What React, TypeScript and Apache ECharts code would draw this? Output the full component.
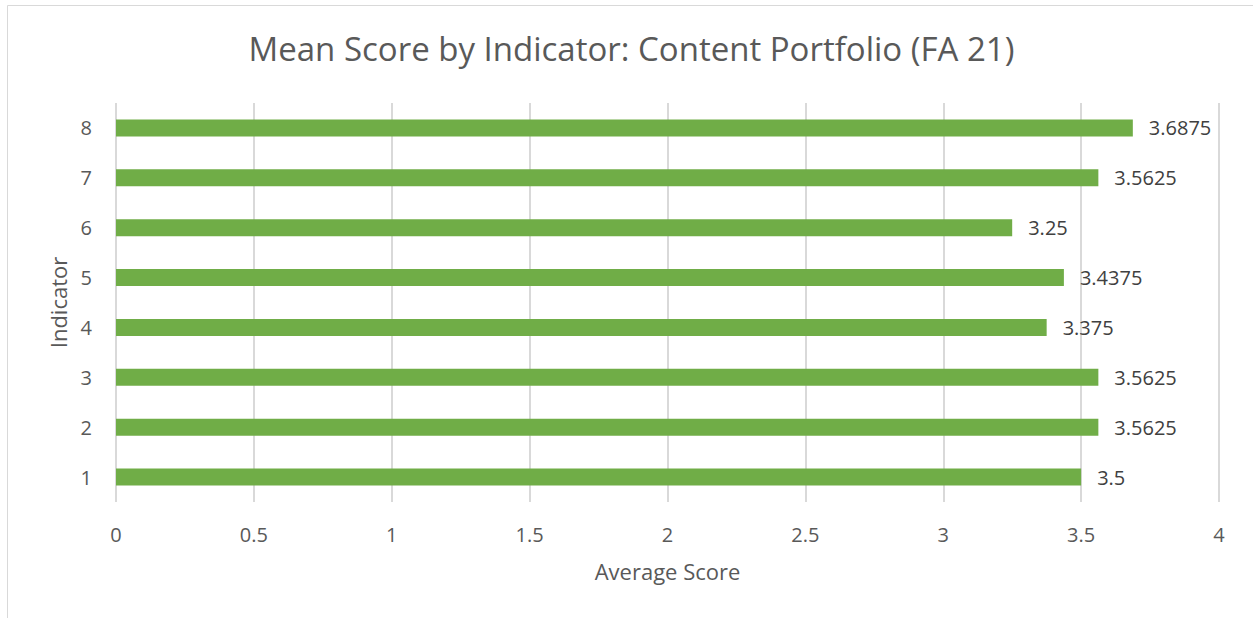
import React, { useEffect, useRef } from "react";
import * as echarts from "echarts";

const indicators = ["1", "2", "3", "4", "5", "6", "7", "8"];
const meanScores = [3.5, 3.5625, 3.5625, 3.375, 3.4375, 3.25, 3.5625, 3.6875];
const titleText = "Mean Score by Indicator: Content Portfolio (FA 21)";
const xAxisName = "Average Score";
const yAxisName = "Indicator";

const FONT = "'Open Sans', 'Noto Sans', sans-serif";

export default function App() {
  const ref = useRef<HTMLDivElement>(null);
  useEffect(() => {
    const chart = echarts.init(ref.current!, null, { renderer: "svg" });
    chart.setOption({
      animation: false,
      backgroundColor: "#ffffff",
      graphic: [
        {
          type: "rect",
          shape: { x: 7.5, y: 5.5, width: 1300, height: 700 },
          style: { fill: "none", stroke: "#d9d9d9", lineWidth: 1 },
          silent: true,
        },
        {
          type: "text",
          x: 631.5,
          y: 48,
          style: {
            text: titleText,
            fontFamily: FONT,
            fontSize: 33,
            fill: "#595959",
            align: "center",
            verticalAlign: "middle",
          },
          silent: true,
        },
      ],
      grid: { left: 116, right: 34, top: 103, bottom: 116, containLabel: false },
      xAxis: {
        type: "value",
        min: 0,
        max: 4,
        interval: 0.5,
        name: xAxisName,
        nameLocation: "middle",
        nameGap: 58,
        nameTextStyle: { fontFamily: FONT, fontSize: 22, color: "#595959" },
        axisLine: { show: false },
        axisTick: { show: false },
        axisLabel: { fontFamily: FONT, fontSize: 20, color: "#595959", margin: 22 },
        splitLine: { show: true, lineStyle: { color: "#d9d9d9", width: 2 } },
      },
      yAxis: {
        type: "category",
        data: indicators,
        name: yAxisName,
        nameLocation: "middle",
        nameGap: 47,
        nameRotate: 90,
        nameTextStyle: { fontFamily: FONT, fontSize: 22, color: "#595959" },
        axisLine: { show: false },
        axisTick: { show: false },
        axisLabel: { fontFamily: FONT, fontSize: 20, color: "#595959", margin: 24 },
        splitLine: { show: false },
      },
      series: [
        {
          type: "bar",
          data: meanScores,
          barWidth: "34%",
          itemStyle: { color: "#70ad47" },
          label: {
            show: true,
            position: "right",
            distance: 16,
            fontFamily: FONT,
            fontSize: 20,
            color: "#404040",
          },
        },
      ],
    });
    return () => chart.dispose();
  }, []);
  return (
    <div
      ref={ref}
      style={{ position: "fixed", left: 0, top: 0, width: 1253, height: 618 }}
    />
  );
}
